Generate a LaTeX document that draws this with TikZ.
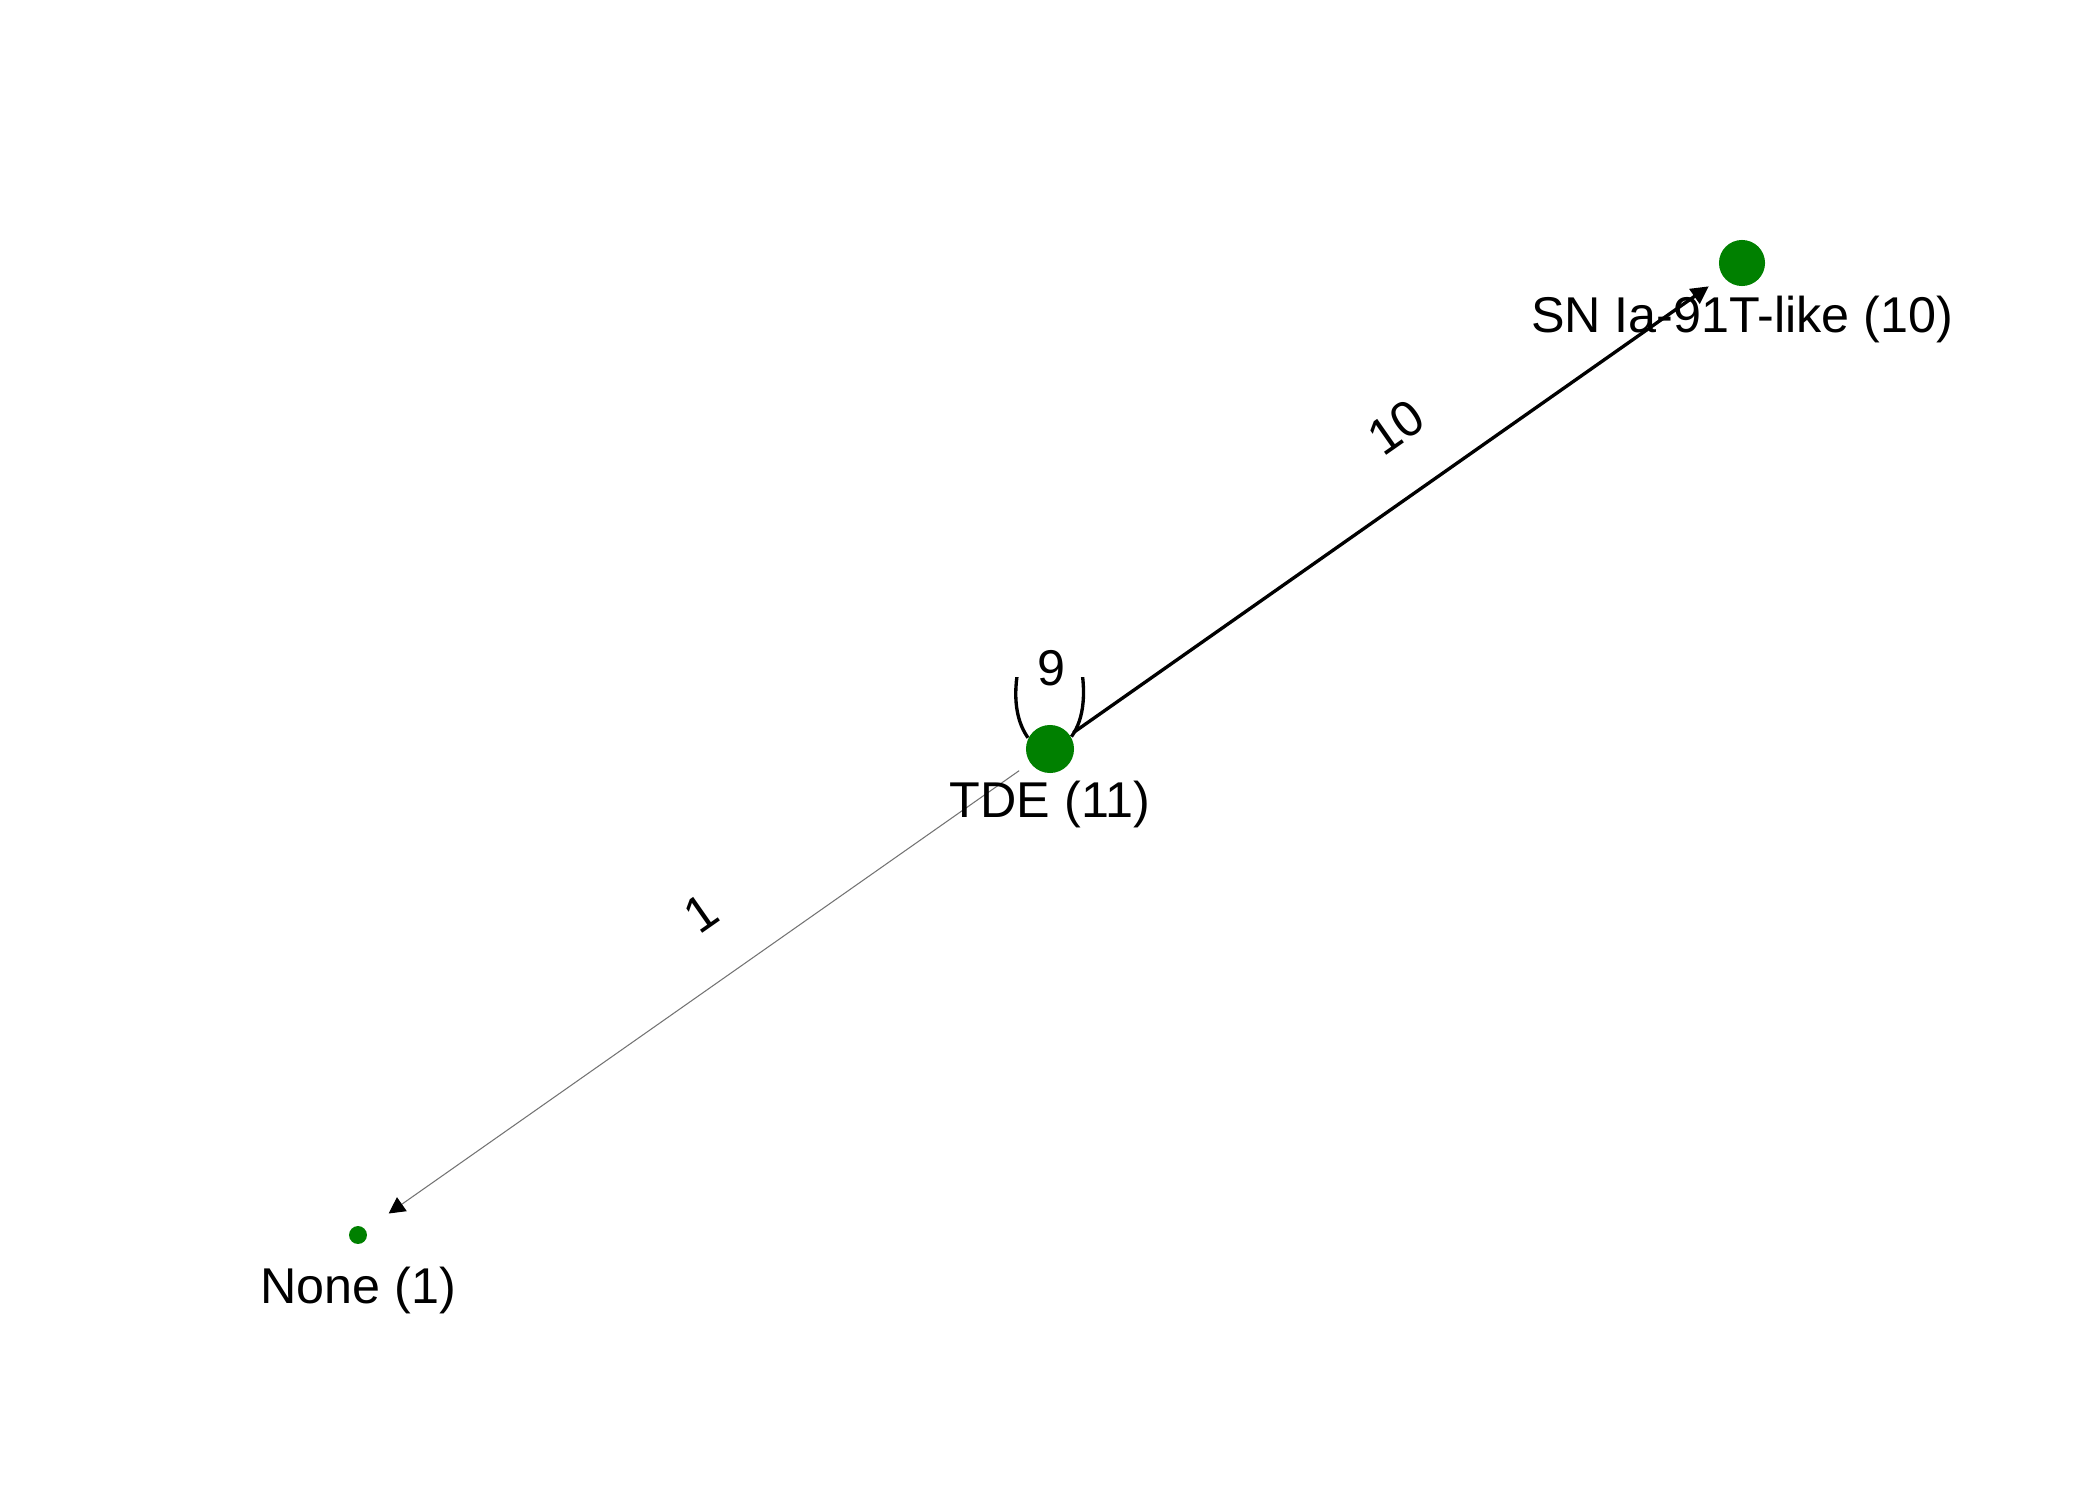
\documentclass[tikz,border=0pt]{standalone}
\usepackage{fontspec}
\setmainfont{Liberation Sans}
\usetikzlibrary{arrows.meta,backgrounds}
\definecolor{nodegreen}{RGB}{0,128,0}
\begin{document}
\begin{tikzpicture}[x=0.01cm,y=-0.01cm,
  vertex/.style={circle,fill=nodegreen,draw=none,inner sep=0pt},
  vlabel/.style={font=\fontsize{14.3}{17}\selectfont,anchor=base,inner sep=0pt},
  elabel/.style={font=\fontsize{14.3}{17}\selectfont,anchor=center,inner sep=0pt,rotate=35},
  heavy/.style={line width=0.95pt,black,-{Triangle[length=5pt,width=5pt]}},
  light/.style={line width=0.3pt,black!55,-{Triangle[length=4.6pt,width=4.8pt,fill=black,color=black]}}]
\useasboundingbox (0,0) rectangle (2100,1500);
% vertices
\node[vertex,minimum size=13.66pt] (tde) at (1050,749) {};
\node[vertex,minimum size=13.1pt] (sn) at (1742,263) {};
\node[vertex,minimum size=5.1pt] (none) at (358,1235) {};
% vertex labels
\node[vlabel] (tdel) at (1050,817) {TDE (11)};
\node[vlabel] (snl) at (1742,332) {SN Ia-91T-like (10)};
\node[vlabel] (nonel) at (358,1303) {None (1)};
% edges
\begin{pgfonlayer}{background}
\draw[heavy,shorten <=1.1pt,shorten >=4.8pt] (tde) -- (sn);
\draw[light,shorten <=3.7pt,shorten >=7.9pt] (tde) -- (none);
\begin{scope}
\clip (900,677) rectangle (1200,800);
\draw[line width=0.95pt,black] (tde.153) .. controls (1014,718) and (1013,690) .. (1020,660)
  .. controls (1028,620) and (1072,620) .. (1080,660)
  .. controls (1086,690) and (1085,718) .. (tde.30);
\end{scope}
\end{pgfonlayer}
% edge labels
\node[vlabel] (loopl) at (1051,685) {9};
\node[elabel] (e10) at (1396,427) {10};
\node[elabel] (e1) at (701,913) {1};
\end{tikzpicture}
\end{document}
